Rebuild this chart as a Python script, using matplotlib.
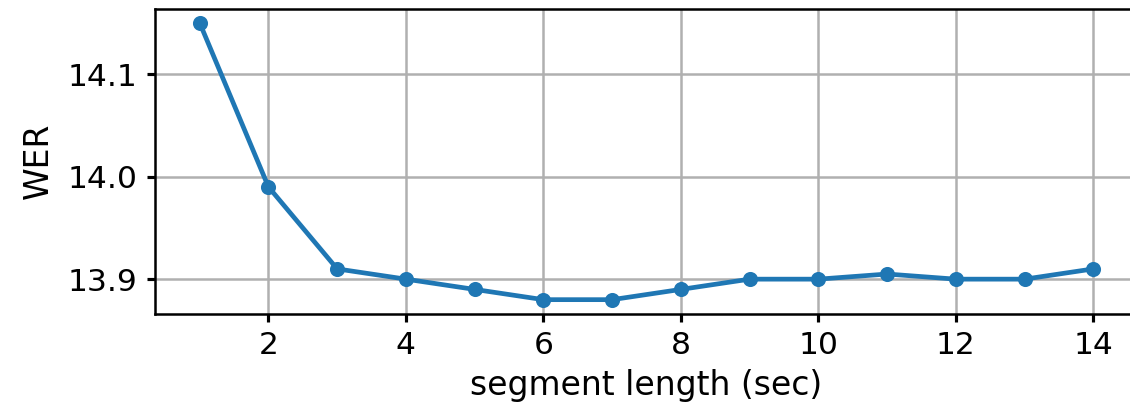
import matplotlib
matplotlib.use("Agg")
import matplotlib.pyplot as plt

segment_length = [1, 2, 3, 4, 5, 6, 7, 8, 9, 10, 11, 12, 13, 14]
wer = [14.15, 13.99, 13.91, 13.90, 13.89, 13.88, 13.88, 13.89, 13.90, 13.90, 13.905, 13.90, 13.90, 13.91]

DPI = 226
fig = plt.figure(figsize=(1130 / DPI, 415 / DPI), dpi=DPI)
ax = fig.add_axes([155 / 1130, 1 - 313.5 / 415, (1138 - 155) / 1130, (313.5 - 9) / 415])
ax.plot(segment_length, wer, marker='o', color='#1f77b4', lw=1.5, markersize=3.8)
ax.set_xticks([2, 4, 6, 8, 10, 12, 14])
ax.set_yticks([13.9, 14.0, 14.1])
ax.tick_params(length=2.6, width=1.0, pad=3.0)
ax.grid(True)
ax.set_xlabel("segment length (sec)", fontsize=10.5, labelpad=3)
ax.set_ylabel("WER", fontsize=10.5)
fig.savefig("out.png", dpi=DPI)
